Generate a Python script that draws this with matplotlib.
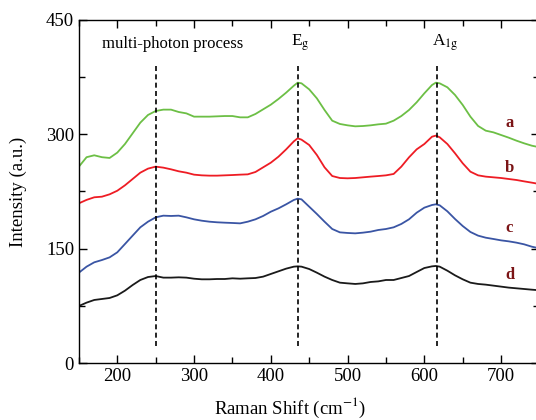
import numpy as np
import matplotlib
matplotlib.use("Agg")
import matplotlib.pyplot as plt
from matplotlib.ticker import MultipleLocator

plt.rcParams['font.family'] = ['Liberation Serif', 'DejaVu Serif']
plt.rcParams['mathtext.fontset'] = 'stix'

# Raman shift grid (cm^-1)
shift = [150, 160, 170, 180, 190, 200, 210, 220, 230, 240, 250, 260, 270, 280, 290,
         300, 310, 320, 330, 340, 350, 360, 370, 380, 390, 400, 410, 420, 430, 435,
         440, 450, 460, 470, 480, 490, 500, 510, 520, 530, 540, 550, 560, 570, 580,
         590, 600, 610, 615, 620, 630, 640, 650, 660, 670, 680, 690, 700, 710, 720,
         730, 740, 750]

# curve a (green)
int_a = [257.6, 270, 272.5, 270, 269, 276, 287.3, 301.3, 315.3, 325.4, 330.6, 332.4, 332.4, 329.3, 327.5,
         323.2, 323.2, 323.2, 323.6, 324, 324, 322.3, 322.3, 326.7, 332.8, 338.9, 346.4, 354.7, 363.8, 367.8,
         366.9, 359, 347.2, 331.9, 317.9, 313.6, 311.8, 310.5, 310.9, 311.8, 313.1, 314, 317.9, 324, 331.9,
         342, 353.8, 364.7, 367.8, 366.9, 361.7, 351.6, 338.5, 323.2, 311, 304.8, 302.6, 299.1, 295.6, 291.7,
         288.2, 285.1, 283]

# curve b (red)
int_b = [209.5, 214, 217.4, 218.2, 221.3, 226, 233.1, 241.4, 249.7, 255, 257.6, 256.3, 254.1, 251.5, 249.7,
         247.1, 246.2, 245.8, 245.8, 246.2, 246.6, 247.1, 247.5, 250.6, 256.7, 262.8, 270.7, 280.3, 290.8, 294.8,
         293, 286, 272.9, 256.7, 245.3, 242.7, 242.3, 242.7, 243.6, 244.5, 245.3, 246.2, 248, 257.6, 269.8,
         280.3, 287.3, 296.9, 298.3, 296.1, 287.3, 275.1, 262, 251, 246.2, 244.5, 243.6, 242.7, 241.4, 240.1,
         238.3, 236.6, 234.8]

# curve c (blue)
int_c = [118.5, 126.4, 132.1, 135.1, 138.6, 145.2, 156.1, 167.1, 178, 185.4, 191.1, 193.3, 192.9, 193.3, 191.1,
         188.5, 186.7, 185.4, 184.6, 184.1, 183.7, 183.2, 185.4, 188.5, 192.9, 198.5, 202.9, 208.2, 213.9, 215.6,
         214.7, 205.1, 195.5, 185.4, 175.8, 171.4, 170.6, 170.1, 171, 172.3, 174.5, 175.8, 178, 182.4, 188.5,
         197.2, 203.8, 207.3, 208.2, 206.9, 199, 188.9, 179.7, 171.9, 167.1, 164.4, 162.7, 160.9, 159.6, 157.9,
         155.7, 152.6, 150.4]

# curve d (black)
int_d = [74.8, 79.2, 82.7, 84, 85.3, 88.8, 94.9, 102.3, 108.9, 112.8, 114.1, 112, 112, 112.4, 112,
         110.6, 109.8, 109.8, 110.2, 110.2, 111.1, 110.6, 111.1, 111.5, 113.3, 116.8, 120.3, 123.8, 126.4, 126.8,
         126.4, 123.3, 118.5, 113.3, 108.9, 105.4, 104.5, 103.7, 104.5, 106.3, 107.1, 108.9, 108.9, 111.5, 114.1,
         119.4, 124.6, 126.8, 127.3, 126.4, 121.1, 115, 109.8, 105.4, 103.7, 102.8, 101.5, 100.2, 98.9, 98,
         97.1, 96.2, 95.4]

curve_labels = ['a', 'b', 'c', 'd']
label_y = [315, 256, 177, 115]
peak_pos = [250, 435, 616]

fig = plt.figure(figsize=(5.36, 4.2), dpi=100)
ax = fig.add_axes([0.1472, 0.1357, 0.8593, 0.8167])

ax.plot(shift, int_a, color='#6cbf45', lw=1.3)
ax.plot(shift, int_b, color='#ee1c24', lw=1.3)
ax.plot(shift, int_c, color='#3a55a4', lw=1.3)
ax.plot(shift, int_d, color='#1a1a1a', lw=1.3)

# dashed markers for the modes
for p in peak_pos:
    ax.plot([p, p], [22, 394], color='black', lw=1.2, linestyle=(0, (3, 2)))

ax.text(272, 419, 'multi-photon process', ha='center', va='center', fontsize=12)
ax.text(438, 420, r'E$_{\mathrm{g}}$', ha='center', va='center', fontsize=12.5)
ax.text(627, 420, r'A$_{\mathrm{1g}}$', ha='center', va='center', fontsize=12.5)

for lab, yy in zip(curve_labels, label_y):
    ax.text(711, yy, lab, ha='center', va='center', fontsize=12,
            fontweight='bold', color='#7b1416')

ax.set_xlim(150, 750)
ax.set_ylim(0, 450)
ax.set_xticks([200, 300, 400, 500, 600, 700])
ax.xaxis.set_minor_locator(MultipleLocator(50))
ax.set_yticks([0, 150, 300, 450])
ax.yaxis.set_minor_locator(MultipleLocator(75))
ax.tick_params(which='both', direction='in', top=True, right=True, labelsize=13.5, width=1.0)
ax.tick_params(which='major', length=6)
ax.tick_params(which='minor', length=4)
for s in ax.spines.values():
    s.set_linewidth(1.0)

ax.set_xlabel(r'Raman Shift (cm$^{\mathrm{-1}}$)', fontsize=13.5)
ax.set_ylabel('Intensity (a.u.)', fontsize=13.5)
ax.xaxis.set_label_coords(0.458, -0.097)
ax.yaxis.set_label_coords(-0.113, 0.5)

fig.savefig('out.png', dpi=100)
